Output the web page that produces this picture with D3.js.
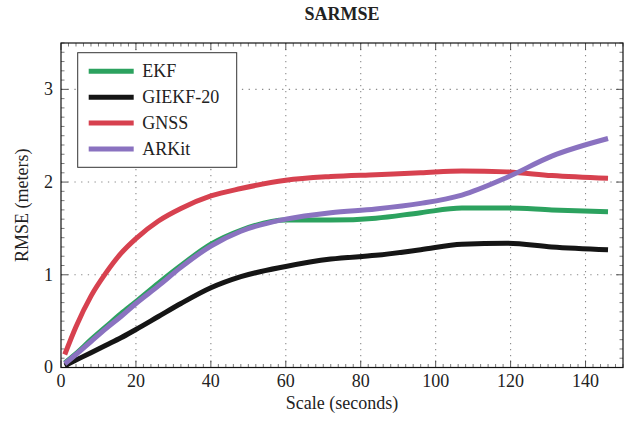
<!DOCTYPE html>
<html>
<head>
<meta charset="utf-8">
<script src="https://cdnjs.cloudflare.com/ajax/libs/d3/7.8.5/d3.min.js"></script>
<style>
    html, body { margin: 0; padding: 0; background: #fff; overflow: hidden; }
    svg { display: block; }
    text { font-family: "Liberation Serif", "DejaVu Serif", serif; fill: #222; }
</style>
</head>
<body>
<div id="chart"></div>
<script>
// scale in seconds
var scaleSec = [1, 4, 8, 12, 16, 20, 26, 32, 40, 48, 60, 72, 84, 96, 107, 119, 131, 146];

var ekf    = [0.05, 0.15, 0.30, 0.44, 0.58, 0.71, 0.91, 1.10, 1.33, 1.48, 1.59, 1.59, 1.61, 1.67, 1.72, 1.72, 1.70, 1.68];
var giekf  = [0.02, 0.08, 0.16, 0.24, 0.32, 0.41, 0.55, 0.69, 0.86, 0.98, 1.09, 1.17, 1.21, 1.27, 1.33, 1.34, 1.30, 1.27];
var gnss   = [0.14, 0.44, 0.77, 1.02, 1.23, 1.39, 1.58, 1.715, 1.85, 1.93, 2.02, 2.06, 2.08, 2.10, 2.12, 2.11, 2.07, 2.04];
var arkit  = [0.04, 0.14, 0.28, 0.42, 0.55, 0.69, 0.88, 1.08, 1.31, 1.47, 1.60, 1.67, 1.71, 1.77, 1.86, 2.05, 2.28, 2.47];

var seriesNames = ["EKF", "GIEKF-20", "GNSS", "ARKit"];
var seriesColors = ["#2ca25f", "#151515", "#d7414f", "#8a72c0"];

var xTicks = [0, 20, 40, 60, 80, 100, 120, 140];
var yTicks = [0, 1, 2, 3];

var outerWidth = 633;
var outerHeight = 422;
var margin = { left: 61, top: 43, right: 10, bottom: 54.5 };

var innerWidth  = outerWidth  - margin.left - margin.right;
var innerHeight = outerHeight - margin.top  - margin.bottom;

var svg = d3.select("#chart").append("svg")
    .attr("width", outerWidth)
    .attr("height", outerHeight);

var g = svg.append("g")
    .attr("transform", "translate(" + margin.left + "," + margin.top + ")");

var xScale = d3.scaleLinear().domain([0, 150]).range([0, innerWidth]);
var yScale = d3.scaleLinear().domain([0, 3.5]).range([innerHeight, 0]);

// dotted grid
var gridG = g.append("g").attr("class", "grid");
gridG.selectAll("line.gx").data(xTicks.slice(1)).enter().append("line")
    .attr("x1", function(d) { return xScale(d); })
    .attr("x2", function(d) { return xScale(d); })
    .attr("y1", 0).attr("y2", innerHeight)
    .attr("stroke", "#8a8a8a").attr("stroke-width", 1.1)
    .attr("stroke-dasharray", "1.3,4.7");
gridG.selectAll("line.gy").data(yTicks.slice(1)).enter().append("line")
    .attr("y1", function(d) { return yScale(d); })
    .attr("y2", function(d) { return yScale(d); })
    .attr("x1", 0).attr("x2", innerWidth)
    .attr("stroke", "#8a8a8a").attr("stroke-width", 1.1)
    .attr("stroke-dasharray", "1.3,5.4");

// ticks on all four sides, pointing inward
var xMinor = d3.range(0, 151, 2).filter(function(d) { return d % 20 !== 0; });
var yMinor = d3.range(0, 35.1, 1).map(function(d) { return d / 10; })
    .filter(function(d) { return Math.abs(d - Math.round(d)) > 0.01; });

var tickG = g.append("g").attr("stroke", "#444");
function vTicks(vals, len, w) {
    tickG.selectAll(null).data(vals).enter().append("line")
        .attr("x1", function(d) { return xScale(d); }).attr("x2", function(d) { return xScale(d); })
        .attr("y1", innerHeight).attr("y2", innerHeight - len).attr("stroke-width", w);
    tickG.selectAll(null).data(vals).enter().append("line")
        .attr("x1", function(d) { return xScale(d); }).attr("x2", function(d) { return xScale(d); })
        .attr("y1", 0).attr("y2", len).attr("stroke-width", w);
}
function hTicks(vals, len, w) {
    tickG.selectAll(null).data(vals).enter().append("line")
        .attr("y1", function(d) { return yScale(d); }).attr("y2", function(d) { return yScale(d); })
        .attr("x1", 0).attr("x2", len).attr("stroke-width", w);
    tickG.selectAll(null).data(vals).enter().append("line")
        .attr("y1", function(d) { return yScale(d); }).attr("y2", function(d) { return yScale(d); })
        .attr("x1", innerWidth).attr("x2", innerWidth - len).attr("stroke-width", w);
}
vTicks(xTicks, 7, 0.9);
hTicks(yTicks, 7, 0.9);
vTicks(xMinor, 3.5, 0.7);
hTicks(yMinor, 3.5, 0.7);

// lines
var allSeries = [ekf, giekf, gnss, arkit];
var line = d3.line()
    .x(function(d, i) { return xScale(scaleSec[i]); })
    .y(function(d) { return yScale(d); })
    .curve(d3.curveMonotoneX);

var drawOrder = [2, 1, 0, 3];
g.append("g").selectAll("path").data(drawOrder).enter().append("path")
    .attr("d", function(k) { return line(allSeries[k]); })
    .attr("fill", "none")
    .attr("stroke", function(k) { return seriesColors[k]; })
    .attr("stroke-width", 5)
    .attr("stroke-linejoin", "round");

// frame
g.append("rect")
    .attr("width", innerWidth).attr("height", innerHeight)
    .attr("fill", "none").attr("stroke", "#111").attr("stroke-width", 1.2);

// tick labels
g.append("g").selectAll("text").data(xTicks).enter().append("text")
    .attr("x", function(d) { return xScale(d); })
    .attr("y", innerHeight + 19.5)
    .attr("text-anchor", "middle")
    .style("font-size", "18px")
    .text(function(d) { return d; });

g.append("g").selectAll("text").data(yTicks).enter().append("text")
    .attr("x", -8)
    .attr("y", function(d) { return yScale(d); })
    .attr("dy", "0.33em")
    .attr("text-anchor", "end")
    .style("font-size", "18px")
    .text(function(d) { return d; });

// legend
var legendG = g.append("g")
    .attr("transform", "translate(" + (77.7 - margin.left) + "," + (52.7 - margin.top) + ")");
legendG.append("rect")
    .attr("width", 159).attr("height", 114.6)
    .attr("fill", "#fff").attr("stroke", "#333").attr("stroke-width", 1);
var items = legendG.selectAll("g.item").data(seriesNames).enter().append("g")
    .attr("transform", function(d, i) { return "translate(0," + (18.6 + i * 25.9) + ")"; });
items.append("line")
    .attr("x1", 11).attr("x2", 56)
    .attr("stroke", function(d, i) { return seriesColors[i]; })
    .attr("stroke-width", 5);
items.append("text")
    .attr("x", 64.5)
    .attr("dy", "0.34em")
    .style("font-size", "18px")
    .text(function(d) { return d; });

// titles
svg.append("text")
    .attr("x", margin.left + innerWidth / 2)
    .attr("y", 20)
    .attr("text-anchor", "middle")
    .style("font-size", "18px")
    .style("font-weight", "bold")
    .text("SARMSE");

svg.append("text")
    .attr("x", margin.left + innerWidth / 2)
    .attr("y", 409)
    .attr("text-anchor", "middle")
    .style("font-size", "18px")
    .text("Scale (seconds)");

svg.append("text")
    .attr("transform", "translate(28," + (margin.top + innerHeight / 2) + ") rotate(-90)")
    .attr("text-anchor", "middle")
    .style("font-size", "18px")
    .text("RMSE (meters)");
</script>
</body>
</html>
